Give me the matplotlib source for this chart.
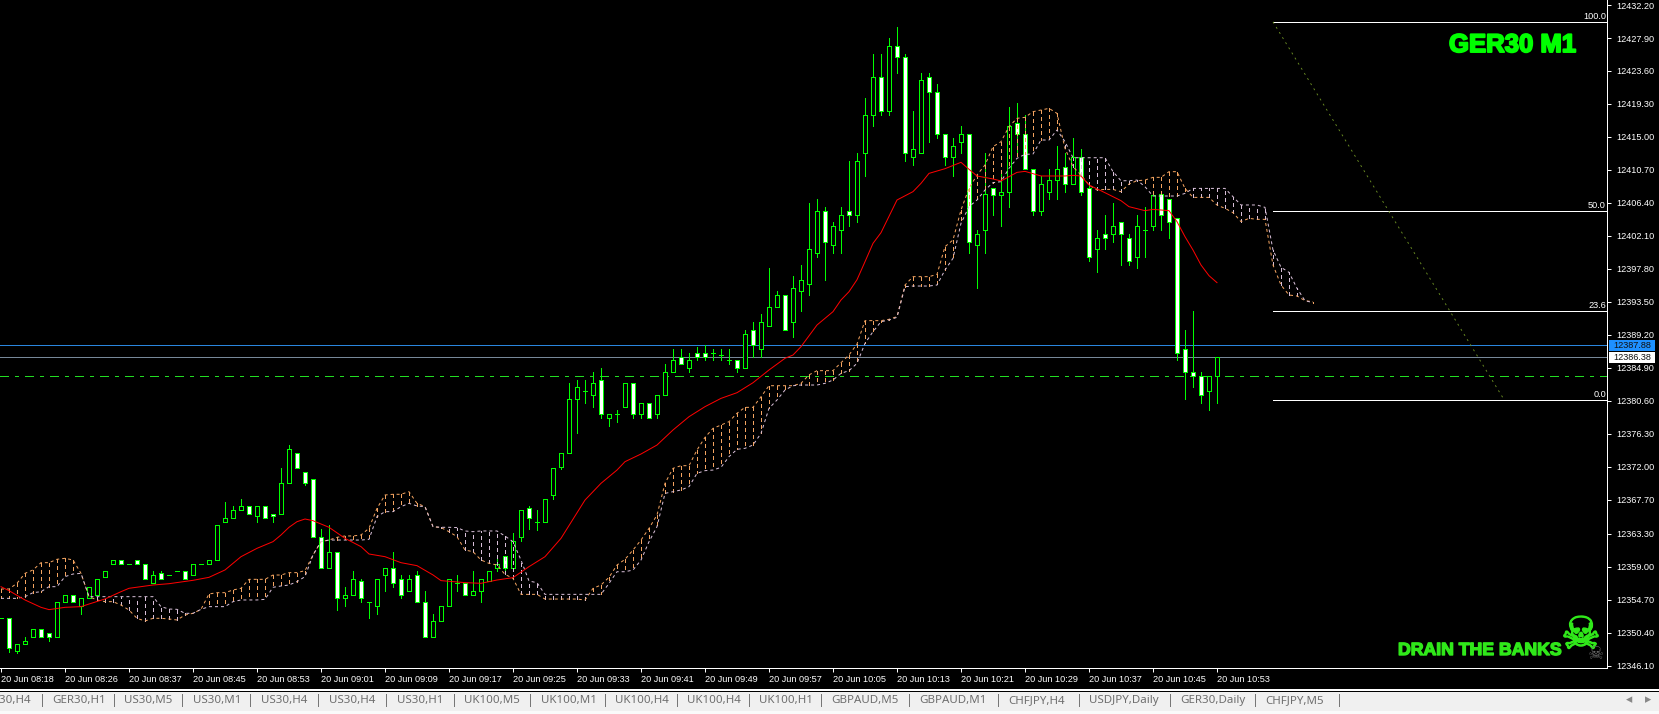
import matplotlib
matplotlib.use("Agg")
from matplotlib import pyplot as plt
from matplotlib.patches import Rectangle
import matplotlib.patheffects as pe
import numpy as np

W, H = 1659, 714
AX_W, AX_H = 1607, 668

opens = [12352.38,12352.38,12348.06,12348.88,12349.88,12350.88,12350.38,12349.88,12354.38,12355.38,
12353.88,12354.88,12355.38,12357.62,12359.38,12359.88,12359.38,12359.88,12359.38,12356.88,
12358.14,12357.88,12358.38,12358.38,12357.88,12359.38,12359.38,12359.88,12364.88,12365.38,
12366.38,12366.88,12365.57,12366.88,12365.88,12365.88,12369.88,12373.88,12371.38,12370.38,
12362.88,12358.88,12360.88,12354.88,12355.38,12357.10,12354.38,12353.88,12357.88,12358.88,
12357.38,12355.88,12357.88,12354.38,12349.88,12351.88,12353.88,12356.88,12356.88,12355.38,
12355.88,12357.10,12358.88,12360.38,12358.88,12362.88,12366.61,12364.88,12364.88,12368.38,
12372.04,12373.88,12380.88,12381.88,12381.38,12383.38,12378.38,12378.88,12379.88,12382.88,
12378.88,12380.38,12378.88,12381.38,12384.38,12386.38,12384.88,12386.88,12386.88,12386.88,
12386.60,12385.88,12385.88,12384.88,12389.88,12387.38,12390.38,12392.88,12394.38,12390.88,
12394.88,12395.88,12399.88,12405.38,12400.88,12402.88,12405.38,12404.88,12412.88,12417.88,
12422.88,12418.38,12426.88,12425.38,12412.38,12412.88,12422.88,12420.88,12415.38,12412.38,
12414.38,12415.38,12400.88,12402.88,12408.38,12407.38,12407.88,12416.88,12415.38,12410.88,
12405.38,12407.88,12409.38,12411.05,12408.88,12412.38,12408.38,12400.38,12402.38,12402.38,
12403.88,12401.88,12399.38,12402.88,12403.38,12407.53,12406.88,12404.38,12387.38,12384.38,
12383.88,12381.88,12383.88]
highs = [12352.38,12352.38,12348.88,12349.88,12350.88,12350.88,12350.38,12354.38,12355.38,12355.38,
12354.88,12356.38,12357.38,12358.38,12359.88,12359.88,12359.38,12359.88,12359.38,12358.38,
12358.38,12357.88,12358.38,12358.38,12359.38,12359.38,12359.88,12364.38,12367.38,12366.88,
12367.88,12366.88,12366.88,12366.88,12365.88,12371.88,12374.88,12373.88,12371.38,12370.38,
12363.88,12364.38,12360.88,12356.38,12358.38,12357.38,12354.38,12357.38,12358.88,12360.88,
12357.88,12357.88,12358.38,12355.88,12352.88,12353.88,12357.38,12357.88,12356.88,12358.38,
12357.38,12358.38,12360.38,12360.38,12363.38,12366.38,12366.88,12366.38,12367.88,12371.88,
12373.88,12382.88,12383.38,12383.38,12384.38,12384.88,12378.88,12379.38,12382.88,12382.88,
12380.38,12380.38,12381.38,12385.38,12387.38,12387.38,12386.88,12387.60,12387.88,12387.38,
12387.38,12387.38,12385.88,12389.88,12390.88,12391.88,12397.88,12394.88,12394.38,12396.88,
12398.38,12406.38,12406.88,12405.88,12403.88,12405.88,12411.88,12412.88,12420.04,12425.88,
12425.88,12427.88,12429.38,12425.88,12418.38,12423.38,12423.38,12421.88,12415.38,12414.88,
12416.38,12415.38,12402.88,12412.88,12408.38,12410.38,12418.88,12419.38,12417.88,12410.88,
12409.88,12410.88,12413.88,12412.88,12414.88,12413.38,12408.88,12402.88,12404.88,12406.38,
12403.88,12402.38,12404.88,12405.88,12407.38,12407.60,12406.88,12404.38,12389.88,12392.38,
12384.38,12383.88,12386.38]
lows = [12352.38,12347.88,12347.80,12348.88,12349.88,12349.88,12349.38,12349.88,12354.38,12354.38,
12352.88,12354.88,12355.38,12357.62,12359.38,12359.38,12359.38,12359.38,12357.38,12356.88,
12357.38,12357.88,12358.38,12357.38,12357.88,12359.38,12359.38,12359.88,12364.88,12365.38,
12366.38,12365.88,12364.88,12365.38,12364.88,12365.88,12369.88,12371.88,12369.70,12362.88,
12358.88,12358.88,12353.38,12353.88,12355.38,12354.38,12352.38,12352.88,12355.88,12356.38,
12354.88,12355.88,12354.38,12349.88,12349.88,12351.88,12353.88,12355.88,12355.38,12355.38,
12354.38,12357.10,12358.38,12358.14,12358.88,12362.38,12363.88,12363.80,12364.88,12367.88,
12371.80,12373.88,12376.38,12380.38,12379.88,12378.38,12377.38,12377.88,12379.88,12378.38,
12378.38,12378.38,12378.38,12381.38,12384.38,12385.38,12384.38,12385.88,12385.88,12385.88,
12385.88,12385.38,12384.38,12384.88,12386.38,12386.38,12390.38,12392.88,12389.88,12388.88,
12392.38,12394.38,12399.38,12396.38,12399.88,12399.88,12403.38,12403.88,12409.88,12416.38,
12417.88,12417.88,12423.38,12411.88,12411.38,12412.88,12414.38,12414.88,12411.38,12409.88,
12412.88,12399.88,12395.38,12399.88,12404.88,12403.38,12405.88,12412.88,12410.88,12404.88,
12404.88,12406.88,12406.88,12407.88,12408.88,12407.38,12398.88,12397.38,12400.38,12401.38,
12398.38,12398.38,12397.88,12399.38,12402.88,12402.88,12401.88,12385.88,12380.88,12382.38,
12380.38,12379.38,12380.38]
closes = [12352.38,12348.38,12348.88,12349.38,12350.88,12349.88,12349.88,12354.38,12355.38,12354.38,
12354.88,12356.38,12357.38,12358.38,12359.88,12359.38,12359.38,12359.38,12357.38,12357.88,
12357.38,12357.88,12358.38,12357.38,12359.38,12359.38,12359.88,12364.38,12365.38,12366.38,
12366.88,12365.88,12366.88,12365.38,12365.57,12369.88,12374.38,12371.88,12369.88,12362.88,
12358.88,12360.88,12354.88,12355.38,12357.38,12354.88,12354.38,12357.38,12358.88,12356.88,
12355.38,12357.38,12354.38,12349.88,12351.88,12353.88,12357.38,12356.88,12355.38,12355.88,
12357.38,12358.38,12359.38,12358.88,12362.38,12366.38,12365.38,12364.88,12367.88,12371.88,
12373.88,12380.88,12382.38,12381.88,12382.88,12378.88,12378.88,12378.88,12382.88,12378.88,
12380.38,12378.38,12381.38,12384.38,12385.88,12385.38,12385.88,12386.38,12386.38,12386.88,
12386.60,12385.88,12384.88,12389.38,12387.88,12390.88,12392.88,12394.38,12389.88,12395.38,
12396.38,12400.38,12405.38,12401.38,12403.38,12404.88,12404.88,12411.88,12417.88,12422.88,
12418.38,12426.88,12425.38,12412.88,12413.38,12422.38,12420.88,12415.38,12412.38,12413.88,
12415.38,12401.38,12402.38,12407.53,12407.38,12407.88,12416.38,12415.38,12410.88,12405.38,
12408.88,12409.38,12410.88,12408.88,12412.38,12407.88,12399.38,12401.88,12401.88,12403.38,
12402.38,12398.88,12403.38,12402.88,12407.38,12404.88,12403.88,12386.88,12384.38,12383.88,
12381.38,12383.88,12386.38]

ma_bars = [0,1,3,5,6,8,10,11,13,15,16,19,21,24,26,28,30,32,34,35,36,37,38,39,41,43,45,46,48,50,52,54,55,58,60,
62,64,66,68,70,73,75,77,78,80,82,84,86,88,90,92,94,96,98,99,100,102,104,105,106,107,108,109,110,112,114,115,116,118,120,
121,122,124,125,126,127,128,130,133,134,135,136,138,140,141,143,144,146,147,148,149,150,151,152]
ma_vals = [12356.40,12355.88,12354.67,12353.71,12353.41,12353.71,12353.80,12354.14,12354.80,12355.75,12356.19,12356.62,12356.79,12357.23,12357.62,12358.58,12360.31,12361.40,12362.27,12363.14,12364.14,12364.87,12365.22,12365.00,12364.14,12362.70,12361.62,12360.66,12360.31,12359.53,12359.14,12357.93,12357.19,12356.93,12356.84,
12357.27,12357.58,12359.01,12360.31,12362.70,12367.69,12369.87,12371.60,12372.69,12373.69,12374.86,12376.82,12378.55,12379.86,12380.94,12381.68,12382.98,12384.64,12386.16,12386.59,12387.68,12390.50,12392.24,12393.76,12394.84,12396.40,12398.75,12401.14,12402.53,12406.79,12407.88,12408.96,12410.26,12410.87,12411.70,
12410.79,12409.92,12409.53,12409.27,12409.83,12410.39,12410.52,12409.92,12409.92,12410.00,12409.92,12408.74,12407.74,12406.70,12405.92,12405.40,12405.57,12405.40,12403.97,12402.01,12400.27,12398.32,12396.93,12396.02]

span_a = [12356.10,12356.10,12356.84,12358.14,12358.58,12359.53,12359.53,12359.97,12360.10,12359.88,
12358.14,12355.10,12354.67,12354.45,12354.45,12354.01,12353.36,12352.28,12351.93,12352.28,
12352.28,12352.19,12352.06,12352.71,12352.93,12353.45,12355.45,12355.62,12355.62,12355.97,
12356.19,12357.36,12357.36,12357.36,12357.92,12357.92,12358.23,12358.23,12358.49,12360.53,
12362.27,12362.48,12362.83,12363.01,12363.01,12363.14,12364.01,12366.61,12368.35,12368.44,
12368.44,12368.78,12367.26,12366.83,12364.22,12364.10,12363.57,12362.92,12361.18,12360.96,
12359.88,12359.44,12359.23,12358.00,12357.49,12355.40,12355.40,12355.40,12354.79,12354.79,
12354.79,12354.79,12354.79,12354.66,12356.18,12356.62,12357.62,12359.22,12359.96,12361.18,
12362.48,12364.00,12365.74,12369.87,12371.82,12372.17,12372.17,12374.21,12375.86,12377.03,
12377.47,12377.90,12379.00,12379.77,12379.77,12381.15,12382.59,12382.59,12382.59,12382.59,
12382.90,12384.00,12384.55,12384.55,12384.55,12385.59,12386.59,12388.02,12391.07,12391.07,
12391.07,12391.24,12391.60,12395.71,12396.80,12396.80,12396.80,12397.10,12400.71,12401.58,
12405.49,12408.31,12410.05,12411.35,12413.74,12414.39,12416.35,12417.43,12417.56,12418.30,
12418.52,12418.73,12418.08,12413.52,12411.13,12410.04,12408.74,12408.09,12408.17,12408.17,
12407.87,12408.87,12409.30,12409.39,12409.74,12409.74,12410.48,12410.48,12408.30,12407.13,
12407.13,12407.13,12406.13,12405.70,12405.14,12403.97,12404.40,12404.27,12404.27,12398.32,
12395.71,12394.41,12394.28,12393.67,12393.54]
span_b = [12354.88,12354.88,12354.88,12355.10,12355.62,12355.75,12356.40,12356.40,12357.71,12358.05,
12358.14,12355.10,12355.10,12355.10,12355.10,12355.10,12355.10,12355.10,12355.10,12355.10,
12353.80,12353.49,12353.45,12352.93,12352.93,12353.45,12353.80,12353.80,12353.80,12354.45,
12354.67,12354.67,12354.67,12354.75,12356.32,12356.49,12356.62,12357.06,12357.71,12360.53,
12362.27,12362.48,12362.48,12362.48,12362.48,12362.48,12362.57,12365.53,12366.18,12366.18,
12366.83,12367.26,12366.92,12366.83,12364.22,12364.14,12364.14,12364.10,12363.66,12363.57,
12363.66,12363.66,12363.66,12363.00,12362.26,12359.87,12357.14,12356.92,12355.40,12355.40,
12355.40,12355.40,12355.40,12355.40,12355.40,12355.40,12356.83,12358.35,12358.35,12358.57,
12359.87,12362.26,12364.22,12368.56,12368.78,12369.00,12369.43,12371.17,12371.52,12371.60,
12371.95,12373.34,12374.30,12374.43,12374.86,12376.38,12379.64,12380.73,12382.03,12382.59,
12382.68,12382.68,12382.68,12382.90,12383.33,12384.20,12384.55,12385.50,12388.11,12389.63,
12390.93,12391.15,12391.50,12395.49,12395.58,12395.58,12395.58,12395.71,12397.67,12399.19,
12403.75,12405.92,12406.79,12408.09,12409.05,12409.18,12410.92,12412.22,12412.74,12412.78,
12414.61,12414.60,12415.91,12414.39,12412.30,12412.30,12412.30,12412.30,12412.30,12410.48,
12409.30,12409.30,12409.39,12408.52,12407.31,12407.31,12407.31,12407.31,12407.65,12408.30,
12408.30,12408.30,12408.30,12408.30,12407.22,12406.14,12406.14,12406.14,12405.83,12400.27,
12398.02,12397.36,12395.28,12393.67,12393.41]

ask_price = 12387.88
bid_price = 12386.38
green_level = 12383.82
fib_low = 12380.69
fib_high = 12429.95
fib_levels = [0.0, 23.6, 50.0, 100.0]
fib_start_bar = 159
trend_bars = [159, 187.75]
trend_prices = [12430.0, 12381.0]

price_ticks = [12432.20,12427.90,12423.60,12419.30,12415.00,12410.70,12406.40,12402.10,12397.80,12393.50,12389.20,
12384.90,12380.60,12376.30,12372.00,12367.70,12363.30,12359.00,12354.70,12350.40,12346.10]
time_labels = ["08:18","08:26","08:37","08:45","08:53","09:01","09:09","09:17","09:25","09:33","09:41",
"09:49","09:57","10:05","10:13","10:21","10:29","10:37","10:45","10:53"]

tab_names = ["GER30,H4","GER30,H1","US30,M5","US30,M1","US30,H4","US30,H4","US30,H1","UK100,M5","UK100,M1","UK100,H4",
"UK100,H4","UK100,H1","GBPAUD,M5","GBPAUD,M1","CHFJPY,H4","USDJPY,Daily","GER30,Daily","CHFJPY,M5"]
tab_seps = [42,114,182,250,318,386,454,530,605,677,749,821,909,998,1079,1170,1255,1339]

LIME = "#00FF00"
PX = 0.72  # one pixel in points at dpi 100
small = "Liberation Sans"
SMALL_SIZE = 6.6

plt.rcParams["lines.scale_dashes"] = False
plt.rcParams["lines.antialiased"] = False
plt.rcParams["patch.antialiased"] = False


def fx(x):
	return x / W


def fy(y):
	return 1 - y / H


fig = plt.figure(figsize=(W / 100, H / 100), dpi=100, facecolor="black")
ax = fig.add_axes([0, fy(AX_H), AX_W / W, AX_H / H], facecolor="black")
ax.set_xlim(-0.125, (AX_W - 1) / 8)
ax.set_ylim(12427.9 - (AX_H - 38) / 7.674, 12427.9 + 38 / 7.674)

# price lines behind the candles
ax.axhline(ask_price, color="#2A86DE", lw=PX, zorder=1)
ax.axhline(bid_price, color="#778899", lw=PX, zorder=1)
ax.axhline(green_level, color="#22DD22", lw=PX, zorder=1,
	linestyle=(0, (9 * PX, 6 * PX, 3 * PX, 6 * PX)))

# fibo
for lv in fib_levels:
	p = fib_low + (fib_high - fib_low) * lv / 100
	ax.plot([fib_start_bar, (AX_W - 1) / 8], [p, p], color="white", lw=PX, zorder=1)
	ax.text((AX_W - 2) / 8, p + 0.15, "%.1f" % lv, color="white", ha="right", va="bottom",
		family=small, fontsize=SMALL_SIZE, zorder=5)
ax.plot(trend_bars, trend_prices, color="#6B8E23", lw=PX * 0.9, zorder=1, antialiased=True,
	linestyle=(0, (2 * PX, 4 * PX)))

# candles
bars = np.arange(len(opens))
o = np.array(opens)
c = np.array(closes)
ax.vlines(bars, lows, highs, colors=LIME, lw=PX, zorder=2, antialiased=False)
ax.bar(bars, np.abs(c - o), width=0.5, bottom=np.minimum(o, c),
	color=["white" if cl < op else "black" for op, cl in zip(opens, closes)],
	edgecolor=LIME, linewidth=PX, zorder=2.5)

# ichimoku cloud
ORANGE = "#F4A460"
THISTLE = "#D8BFD8"
cloud = np.arange(len(span_a))
dash = (0, (3 * PX, 3 * PX))
hatch_col = [ORANGE if a >= b else THISTLE for a, b in zip(span_a, span_b)]
ax.vlines(cloud, span_a, span_b, colors=hatch_col, lw=PX, linestyles=[dash], zorder=3, antialiased=False)
ax.plot(cloud, span_a, color=ORANGE, lw=PX, linestyle=dash, zorder=3, antialiased=True)
ax.plot(cloud, span_b, color=THISTLE, lw=PX, linestyle=dash, zorder=3, antialiased=True)

ax.plot(ma_bars, ma_vals, color="#FF0000", lw=PX, zorder=4, antialiased=True)

# axes
for s in ["top", "left"]:
	ax.spines[s].set_visible(False)
for s in ["right", "bottom"]:
	ax.spines[s].set_color("white")
	ax.spines[s].set_linewidth(PX)
ax.yaxis.tick_right()
ax.set_yticks(price_ticks)
ax.set_yticklabels(["%.2f" % v for v in price_ticks], family=small, fontsize=SMALL_SIZE, color="white")
ax.tick_params(axis="y", length=3, width=PX, color="white", pad=3.5)
xt = np.arange(0, len(time_labels) * 8, 8)
ax.set_xticks(xt)
ax.set_xticklabels(["20 Jun " + t for t in time_labels], family=small, fontsize=SMALL_SIZE, color="white", ha="left")
ax.tick_params(axis="x", length=3, width=PX, color="white", pad=2)

# corner labels
title = fig.text(fx(1449), fy(52), "GER30 M1", color=LIME, family="Liberation Sans",
	fontweight="bold", fontsize=18.5, ha="left", va="baseline")
title.set_path_effects([pe.withStroke(linewidth=1.4, foreground=LIME)])
drain = fig.text(fx(1398), fy(655), "DRAIN THE BANKS", color="#30E81A", family="Liberation Sans",
	fontweight="bold", fontsize=12.7, ha="left", va="baseline")
drain.set_path_effects([pe.withStroke(linewidth=1.0, foreground="#30E81A")])
skull = fig.text(fx(1581), fy(636), "\u2620", color="#30E81A", family="DejaVu Sans", fontsize=32, ha="center", va="center")
skull.set_path_effects([pe.withStroke(linewidth=1.0, foreground="#30E81A")])
fig.text(fx(1596), fy(654), "\u2620", color="#666666", family="DejaVu Sans", fontsize=13, ha="center", va="center")

# current price boxes
fig.add_artist(Rectangle((fx(1609), fy(351)), 46 / W, 11 / H, transform=fig.transFigure, fc="#1E90FF", ec="none"))
fig.add_artist(Rectangle((fx(1609), fy(363)), 46 / W, 11 / H, transform=fig.transFigure, fc="white", ec="none"))
fig.text(fx(1613), fy(345.5), "%.2f" % ask_price, color="#111111", family=small, fontsize=SMALL_SIZE, va="center")
fig.text(fx(1613), fy(357.5), "%.2f" % bid_price, color="#111111", family=small, fontsize=SMALL_SIZE, va="center")

# tab bar
fig.add_artist(Rectangle((0, fy(691)), 1, 2 / H, transform=fig.transFigure, fc="white", ec="none"))
fig.add_artist(Rectangle((0, 0), 1, fy(692), transform=fig.transFigure, fc="#F0F0F0", ec="none"))
fig.add_artist(Rectangle((0, 0), 1, fy(711), transform=fig.transFigure, fc="#FAFAFA", ec="none"))
for i in range(len(tab_names)):
	if i == 0:
		fig.text(fx(31), fy(701), tab_names[i], color="#6E6E6E", family="Noto Sans", fontsize=8.3, ha="right", va="center")
	else:
		fig.text(fx(tab_seps[i - 1] + 10.5), fy(701), tab_names[i], color="#6E6E6E", family="Noto Sans", fontsize=8.3, va="center")
	fig.add_artist(Rectangle((fx(tab_seps[i]), fy(707)), 1 / W, 13 / H, transform=fig.transFigure, fc="#777777", ec="none"))
fig.text(fx(1629), fy(700), "\u25c2", color="#888888", family="DejaVu Sans", fontsize=9, ha="center", va="center")
fig.text(fx(1648), fy(700), "\u25b8", color="#888888", family="DejaVu Sans", fontsize=9, ha="center", va="center")

fig.savefig("out.png", dpi=100, facecolor="black")
